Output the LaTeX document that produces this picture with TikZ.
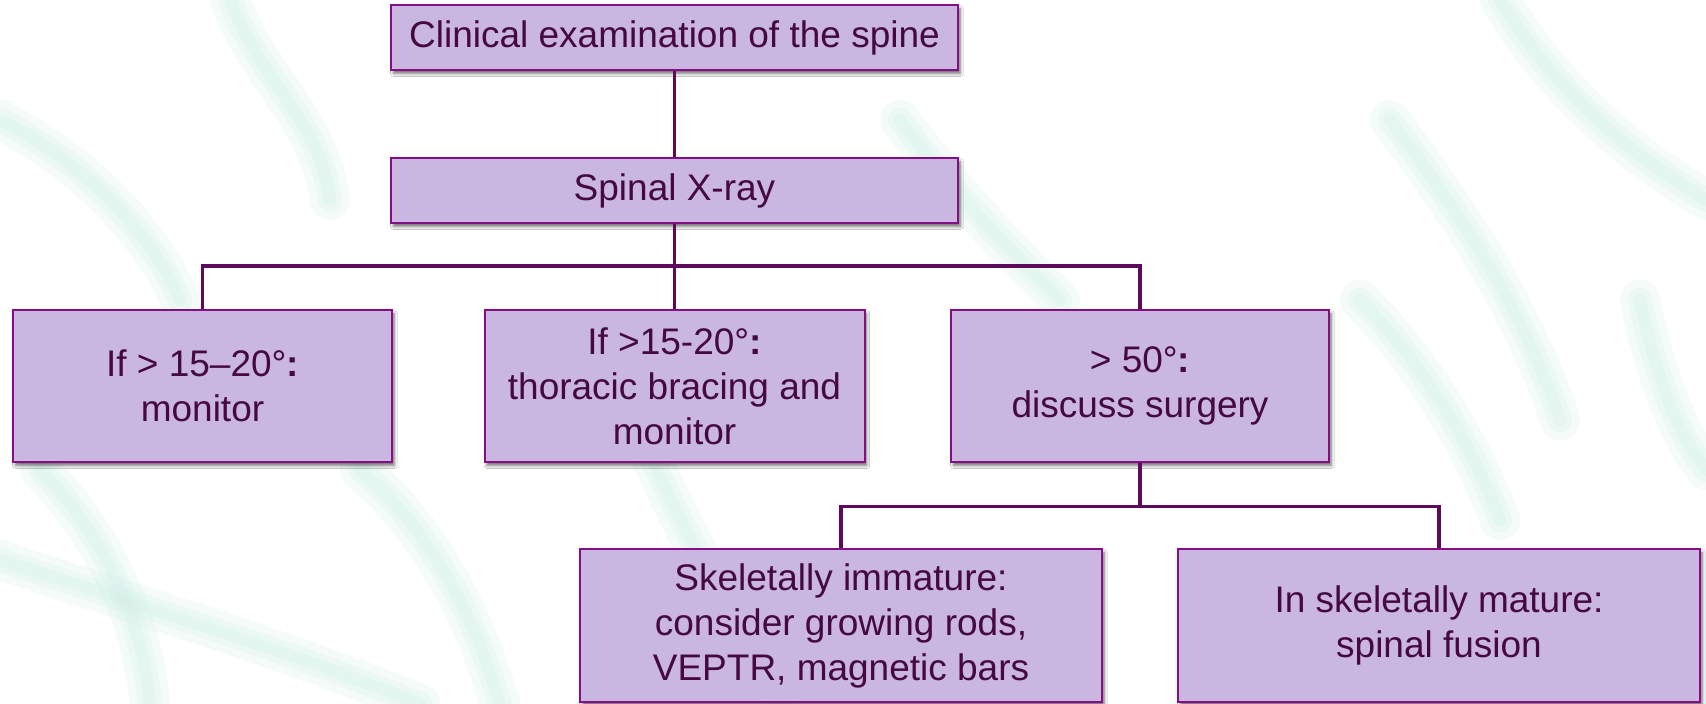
\documentclass[tikz,border=0pt]{standalone}
\usepackage{fontspec}
\setmainfont{Liberation Sans}
\usetikzlibrary{shadows.blur}
\definecolor{boxfill}{HTML}{C9B6E1}
\definecolor{boxborder}{HTML}{860D86}
\definecolor{connc}{HTML}{5E0A5C}
\definecolor{txtc}{HTML}{45083F}
\definecolor{mint}{HTML}{CDEFE6}
\tikzset{
  box/.style={rectangle, draw=boxborder, line width=1pt, fill=boxfill, text=txtc,
    align=center, inner sep=0pt, font=\fontsize{18.5}{22.5}\selectfont,
    blur shadow={shadow xshift=1.2pt, shadow yshift=-1.8pt, shadow blur steps=6,
      shadow blur radius=1.4pt, shadow opacity=55}},
  conn/.style={draw=connc, line width=1.8pt, line join=miter},
  wisp/.style={draw=mint, line cap=round, opacity=0.22}
}
\begin{document}
\begin{tikzpicture}[x=0.5pt,y=-0.5pt]
\fill[white] (0,0) rectangle (1706,704);
\useasboundingbox (0,0) rectangle (1706,704);
% faint background wisps
\foreach \w in {6,12,20}{
\draw[wisp, line width=\w pt] (230,0) .. controls (260,80) and (320,120) .. (330,200);
\draw[wisp, line width=\w pt] (0,120) .. controls (80,160) and (150,230) .. (180,300);
\draw[wisp, line width=\w pt] (0,560) .. controls (120,600) and (260,640) .. (420,704);
\draw[wisp, line width=\w pt] (40,470) .. controls (90,520) and (140,600) .. (150,704);
\draw[wisp, line width=\w pt] (600,330) .. controls (640,450) and (700,560) .. (780,704);
\draw[wisp, line width=\w pt] (360,470) .. controls (420,520) and (470,600) .. (500,704);
\draw[wisp, line width=\w pt] (1390,120) .. controls (1450,200) and (1520,300) .. (1560,420);
\draw[wisp, line width=\w pt] (1500,0) .. controls (1560,100) and (1640,160) .. (1706,200);
\draw[wisp, line width=\w pt] (1360,300) .. controls (1420,360) and (1470,440) .. (1500,520);
\draw[wisp, line width=\w pt] (1640,300) .. controls (1660,400) and (1690,450) .. (1706,470);
\draw[wisp, line width=\w pt] (900,120) .. controls (960,200) and (1010,250) .. (1060,300);
}
% boxes
\node[box, minimum width=283.5pt, minimum height=32.5pt] (b1) at (674.5,37.5) {Clinical examination of the spine};
\node[box, minimum width=283.5pt, minimum height=32.5pt] (b2) at (674.5,190.5) {Spinal X-ray};
\node[box, minimum width=189.5pt, minimum height=76pt] (a) at (202.5,386) {If > 15--20°\textbf{:}\\monitor};
\node[box, minimum width=190pt, minimum height=76pt] (b) at (674.5,386) {If >15-20°\textbf{:}\\thoracic bracing and\\monitor};
\node[box, minimum width=189pt, minimum height=76pt] (c) at (1140,386) {> 50°\textbf{:}\\discuss surgery};
\node[box, minimum width=261pt, minimum height=76.5pt] (d) at (841,625.5) {Skeletally immature:\\consider growing rods,\\VEPTR, magnetic bars};
\node[box, minimum width=261pt, minimum height=76.5pt] (e) at (1439,625.5) {In skeletally mature:\\spinal fusion};
% connectors
\coordinate (j1) at (674.5,266);
\coordinate (j2) at (1140,506.5);
\draw[conn] (b1.south) -- (b2.north);
\draw[conn] (b2.south) -- (b.north);
\draw[conn] (a.north) -- (a.north |- j1) -- (c.north |- j1) -- (c.north);
\draw[conn] (c.south) -- (j2);
\draw[conn] (d.north) -- (d.north |- j2) -- (e.north |- j2) -- (e.north);
\end{tikzpicture}
\end{document}
